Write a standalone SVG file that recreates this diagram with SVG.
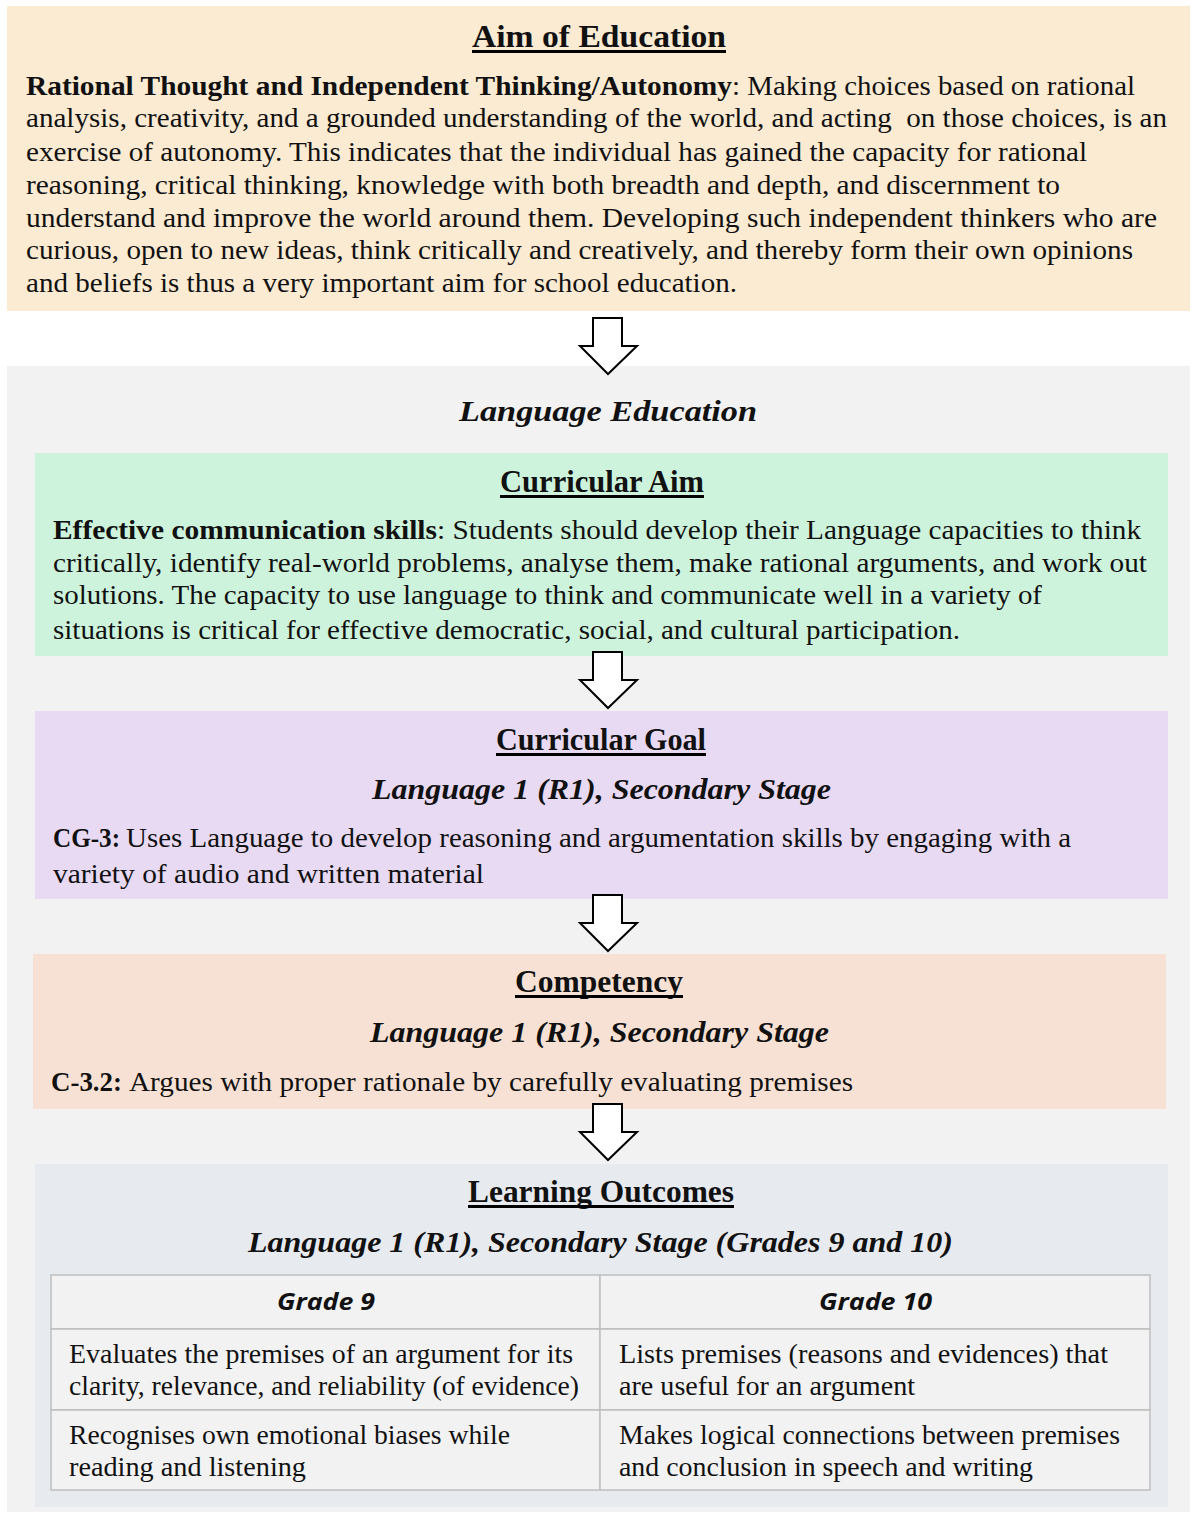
<svg xmlns="http://www.w3.org/2000/svg" width="1196" height="1520" viewBox="0 0 1196 1520">
<style>
  text { font-family: "Liberation Serif", "DejaVu Serif", serif; fill: #111; }
  .b { font-size: 27px; }
  .bb { font-size: 27px; font-weight: bold; }
  .tb { font-size: 27px; }
  .t { font-size: 31px; font-weight: bold; }
  .st { font-size: 30px; font-weight: bold; font-style: italic; }
  .th { font-family: "Open Sans", "Liberation Sans", sans-serif; font-size: 24px; font-weight: bold; font-style: italic; }
  .ul { stroke: #000; stroke-width: 2.8; }
  .arrow { fill: #fff; stroke: #000; stroke-width: 2; stroke-linejoin: miter; }
  .cell { fill: #F2F2F2; stroke: #BFBFBF; stroke-width: 1.5; }
</style>
<defs>
  <path id="blockArrow" d="M593,0 L622,0 L622,28 L637,28 L608,56 L580,28 L593,28 Z"/>
</defs>
<rect width="1196" height="1520" fill="#fff"/>

<g id="aim-of-education">
  <rect x="7" y="6" width="1183" height="305" fill="#FBEBD3"/>
  <text class="t" x="472" y="47" textLength="254" lengthAdjust="spacingAndGlyphs">Aim of Education</text>
  <line class="ul" x1="472" y1="51.5" x2="726" y2="51.5"/>
  <text class="bb" x="26" y="95" textLength="706" lengthAdjust="spacingAndGlyphs">Rational Thought and Independent Thinking/Autonomy</text>
  <text class="b" x="732" y="95" textLength="403" lengthAdjust="spacingAndGlyphs">: Making choices based on rational</text>
  <text class="b" x="26" y="127" textLength="1141" lengthAdjust="spacingAndGlyphs" xml:space="preserve">analysis, creativity, and a grounded understanding of the world, and acting  on those choices, is an</text>
  <text class="b" x="26" y="161" textLength="1061" lengthAdjust="spacingAndGlyphs">exercise of autonomy. This indicates that the individual has gained the capacity for rational</text>
  <text class="b" x="26" y="194" textLength="1034" lengthAdjust="spacingAndGlyphs">reasoning, critical thinking, knowledge with both breadth and depth, and discernment to</text>
  <text class="b" x="26" y="227" textLength="1131" lengthAdjust="spacingAndGlyphs">understand and improve the world around them. Developing such independent thinkers who are</text>
  <text class="b" x="26" y="259" textLength="1107" lengthAdjust="spacingAndGlyphs">curious, open to new ideas, think critically and creatively, and thereby form their own opinions</text>
  <text class="b" x="26" y="292" textLength="711" lengthAdjust="spacingAndGlyphs">and beliefs is thus a very important aim for school education.</text>
</g>

<g id="language-education">
  <rect x="7" y="366" width="1183" height="1146" fill="#F2F2F2"/>
  <text class="st" x="459" y="421" textLength="298" lengthAdjust="spacingAndGlyphs">Language Education</text>
</g>

<g id="curricular-aim">
  <rect x="35" y="453" width="1133" height="203" fill="#CEF3DC"/>
  <text class="t" x="500" y="492" textLength="204" lengthAdjust="spacingAndGlyphs">Curricular Aim</text>
  <line class="ul" x1="500" y1="496.5" x2="704" y2="496.5"/>
  <text class="bb" x="53" y="539" textLength="384" lengthAdjust="spacingAndGlyphs">Effective communication skills</text>
  <text class="b" x="437" y="539" textLength="704" lengthAdjust="spacingAndGlyphs">: Students should develop their Language capacities to think</text>
  <text class="b" x="53" y="572" textLength="1094" lengthAdjust="spacingAndGlyphs">critically, identify real-world problems, analyse them, make rational arguments, and work out</text>
  <text class="b" x="53" y="604" textLength="989" lengthAdjust="spacingAndGlyphs">solutions. The capacity to use language to think and communicate well in a variety of</text>
  <text class="b" x="53" y="639" textLength="907" lengthAdjust="spacingAndGlyphs">situations is critical for effective democratic, social, and cultural participation.</text>
</g>

<g id="curricular-goal">
  <rect x="35" y="711" width="1133" height="188" fill="#E8DAF3"/>
  <text class="t" x="496" y="750" textLength="210" lengthAdjust="spacingAndGlyphs">Curricular Goal</text>
  <line class="ul" x1="496" y1="754.5" x2="706" y2="754.5"/>
  <text class="st" x="372" y="799" textLength="459" lengthAdjust="spacingAndGlyphs">Language 1 (R1), Secondary Stage</text>
  <text class="bb" x="53" y="847" textLength="67" lengthAdjust="spacingAndGlyphs">CG-3:</text>
  <text class="b" x="126" y="847" textLength="945" lengthAdjust="spacingAndGlyphs">Uses Language to develop reasoning and argumentation skills by engaging with a</text>
  <text class="b" x="53" y="883" textLength="431" lengthAdjust="spacingAndGlyphs">variety of audio and written material</text>
</g>

<g id="competency">
  <rect x="33" y="954" width="1133" height="155" fill="#F7E1D4"/>
  <text class="t" x="515" y="992" textLength="168" lengthAdjust="spacingAndGlyphs">Competency</text>
  <line class="ul" x1="515" y1="996.5" x2="683" y2="996.5"/>
  <text class="st" x="370" y="1042" textLength="459" lengthAdjust="spacingAndGlyphs">Language 1 (R1), Secondary Stage</text>
  <text class="bb" x="51" y="1091" textLength="71" lengthAdjust="spacingAndGlyphs">C-3.2:</text>
  <text class="b" x="129" y="1091" textLength="724" lengthAdjust="spacingAndGlyphs">Argues with proper rationale by carefully evaluating premises</text>
</g>

<g id="learning-outcomes">
  <rect x="35" y="1164" width="1133" height="343" fill="#E7EAEF"/>
  <text class="t" x="468" y="1202" textLength="266" lengthAdjust="spacingAndGlyphs">Learning Outcomes</text>
  <line class="ul" x1="468" y1="1206.5" x2="734" y2="1206.5"/>
  <text class="st" x="248" y="1252" textLength="705" lengthAdjust="spacingAndGlyphs">Language 1 (R1), Secondary Stage (Grades 9 and 10)</text>
  <g id="outcomes-table">
    <rect class="cell" x="51" y="1275" width="549" height="54"/>
    <rect class="cell" x="600" y="1275" width="550" height="54"/>
    <rect class="cell" x="51" y="1329" width="549" height="81"/>
    <rect class="cell" x="600" y="1329" width="550" height="81"/>
    <rect class="cell" x="51" y="1410" width="549" height="80"/>
    <rect class="cell" x="600" y="1410" width="550" height="80"/>
    <text class="th" x="277" y="1310" textLength="98" lengthAdjust="spacingAndGlyphs">Grade 9</text>
    <text class="th" x="819" y="1310" textLength="113" lengthAdjust="spacingAndGlyphs">Grade 10</text>
    <text class="tb" x="69" y="1363" textLength="504" lengthAdjust="spacingAndGlyphs">Evaluates the premises of an argument for its</text>
    <text class="tb" x="69" y="1395" textLength="510" lengthAdjust="spacingAndGlyphs">clarity, relevance, and reliability (of evidence)</text>
    <text class="tb" x="69" y="1444" textLength="441" lengthAdjust="spacingAndGlyphs">Recognises own emotional biases while</text>
    <text class="tb" x="69" y="1476" textLength="237" lengthAdjust="spacingAndGlyphs">reading and listening</text>
    <text class="tb" x="619" y="1363" textLength="489" lengthAdjust="spacingAndGlyphs">Lists premises (reasons and evidences) that</text>
    <text class="tb" x="619" y="1395" textLength="296" lengthAdjust="spacingAndGlyphs">are useful for an argument</text>
    <text class="tb" x="619" y="1444" textLength="501" lengthAdjust="spacingAndGlyphs">Makes logical connections between premises</text>
    <text class="tb" x="619" y="1476" textLength="414" lengthAdjust="spacingAndGlyphs">and conclusion in speech and writing</text>
  </g>
</g>

<g id="connectors">
  <use href="#blockArrow" class="arrow" transform="translate(0,318)"/>
  <use href="#blockArrow" class="arrow" transform="translate(0,652)"/>
  <use href="#blockArrow" class="arrow" transform="translate(0,895)"/>
  <use href="#blockArrow" class="arrow" transform="translate(0,1104)"/>
</g>
</svg>
